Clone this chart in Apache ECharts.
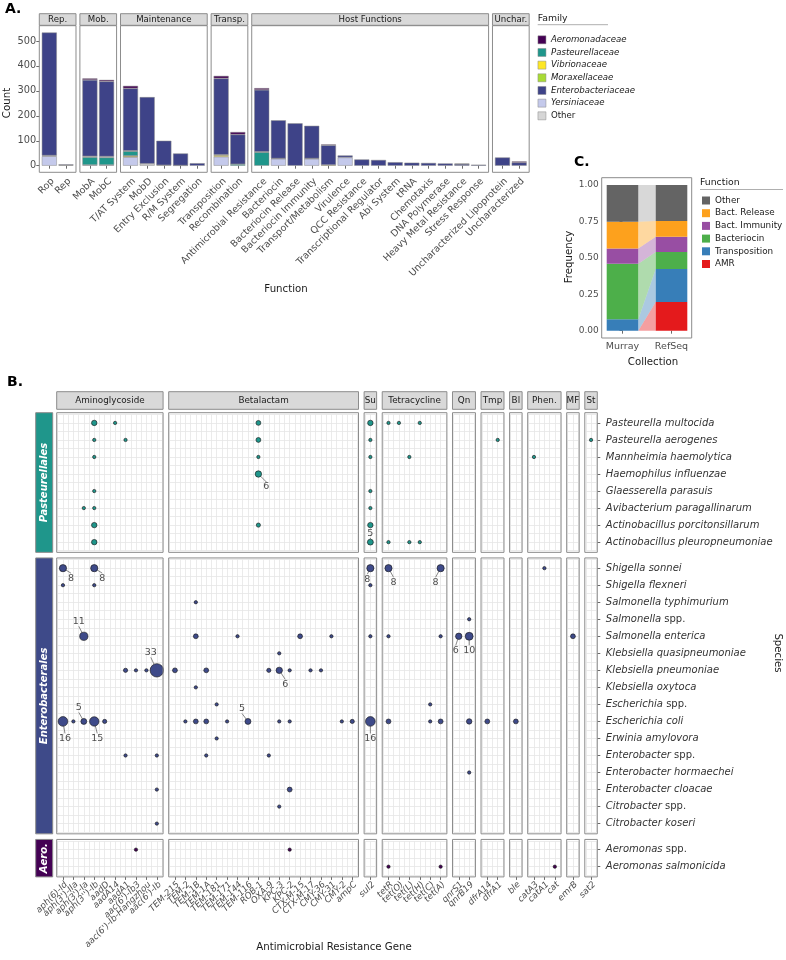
<!DOCTYPE html>
<html><head><meta charset="utf-8">
<script src="https://cdn.jsdelivr.net/npm/echarts@6/dist/echarts.min.js"></script>
<style>html,body{margin:0;padding:0;background:#fff}#c{width:786px;height:960px}</style>
</head><body><div id="c"></div>
<script>
// ================= DATA =================
// ---- Panel A ----
const functionFacets = ["Rep.","Mob.","Maintenance","Transp.","Host Functions","Unchar."];
const functionFacetSizes = [2,2,5,2,14,2];
const functions = ["Rop","Rep","MobA","MobC","T/AT System","MobD","Entry Exclusion","R/M System","Segregation","Transposition","Recombination","Antimicrobial Resistance","Bacteriocin","Bacteriocin Release","Bacteriocin Immunity","Transport/Metabolism","Virulence","QCC Resistance","Transcriptional Regulator","Abi System","tRNA","Chemotaxis","DNA Polymerase","Heavy Metal Resistance","Stress Response","Uncharacterized Lipoprotein","Uncharacterized"];
const familyLegendOrder = ["Aeromonadaceae","Pasteurellaceae","Vibrionaceae","Moraxellaceae","Enterobacteriaceae","Yersiniaceae","Other"];
const familyStackOrder = ["Yersiniaceae","Vibrionaceae","Moraxellaceae","Pasteurellaceae","Other","Enterobacteriaceae","Aeromonadaceae"];
const yersiniaceae       = [38,0,3,3,34,0,0,0,0,36,0,0,28,0,28,0,33,0,0,0,0,0,0,0,0,0,0];
const vibrionaceae       = [0,0,0,0,5,0,0,0,0,6,0,0,0,0,0,3,0,0,0,0,0,0,0,0,0,0,0];
const moraxellaceae      = [0,0,0,0,1,0,0,0,0,0,0,0,0,0,0,0,0,0,0,0,0,0,0,0,0,0,0];
const pasteurellaceae    = [0,2,31,30,18,0,0,0,0,0,6,54,0,0,0,0,0,0,0,0,0,0,0,0,0,0,0];
const otherFamily        = [3,0,4,4,2,8,2,1,0,2,0,2,1,0,1,0,0,0,0,0,0,0,0,0,0,0,0];
const enterobacteriaceae = [493,3,306,301,250,267,98,48,10,306,119,248,153,170,131,79,8,25,23,14,12,11,9,7,4,33,13];
const aeromonadaceae     = [0,0,6,6,10,0,0,0,0,10,10,7,0,0,0,3,0,0,0,0,0,0,0,1,0,0,4];
const yTicksA = [0,100,200,300,400,500];

// ---- Panel B ----
const geneFacets = ["Aminoglycoside","Betalactam","Su","Tetracycline","Qn","Tmp","Bl","Phen.","MF","St"];
const aminoglycoside = ["aph(6)-Id","aph(3')-IIa","aph(3')-Ia","aph(3'')-Ib","aadD","aadA14","aadA1","aac(6')-Ib3","aac(6')-Ib-Hangzhou","aac(6')-Ib"];
const betalactam = ["TEM-215","TEM-2","TEM-1B","TEM-1A","TEM-181","TEM-171","TEM-144","TEM-116","ROB-1","OXA-9","KPC-3","KPC-2","CTX-M-15","CTX-M-17","CMY-36","CMY-31","CMY-2","ampC"];
const sulfonamide = ["sul2"];
const tetracycline = ["tetR","tet(O)","tet(L)","tet(H)","tet(C)","tet(A)"];
const quinolone = ["qnrS1","qnrB19"];
const trimethoprim = ["dfrA14","dfrA1"];
const bleomycin = ["ble"];
const phenicol = ["catA3","catA1","cat"];
const macrolide = ["emrB"];
const streptothricin = ["sat2"];
const geneGroups = [aminoglycoside,betalactam,sulfonamide,tetracycline,quinolone,trimethoprim,bleomycin,phenicol,macrolide,streptothricin];

const orderNames = ["Pasteurellales","Enterobacterales","Aero."];
const pasteurellales = ["Pasteurella multocida","Pasteurella aerogenes","Mannheimia haemolytica","Haemophilus influenzae","Glaesserella parasuis","Avibacterium paragallinarum","Actinobacillus porcitonsillarum","Actinobacillus pleuropneumoniae"];
const enterobacterales = ["Shigella sonnei","Shigella flexneri","Salmonella typhimurium","Salmonella spp.","Salmonella enterica","Klebsiella quasipneumoniae","Klebsiella pneumoniae","Klebsiella oxytoca","Escherichia spp.","Escherichia coli","Erwinia amylovora","Enterobacter spp.","Enterobacter hormaechei","Enterobacter cloacae","Citrobacter spp.","Citrobacter koseri"];
const aeromonadales = ["Aeromonas spp.","Aeromonas salmonicida"];
const speciesGroups = [pasteurellales,enterobacterales,aeromonadales];

const pointsPasteurellales = [
 ["Pasteurella multocida","aph(3'')-Ib",4],["Pasteurella multocida","aadA14",1],["Pasteurella multocida","ROB-1",3],["Pasteurella multocida","sul2",4],["Pasteurella multocida","tetR",1],["Pasteurella multocida","tet(O)",1],["Pasteurella multocida","tet(H)",1],
 ["Pasteurella aerogenes","aph(3'')-Ib",1],["Pasteurella aerogenes","aadA1",1],["Pasteurella aerogenes","ROB-1",3],["Pasteurella aerogenes","sul2",1],["Pasteurella aerogenes","dfrA1",1],["Pasteurella aerogenes","sat2",1],
 ["Mannheimia haemolytica","aph(3'')-Ib",1],["Mannheimia haemolytica","ROB-1",1],["Mannheimia haemolytica","sul2",1],["Mannheimia haemolytica","tet(L)",1],["Mannheimia haemolytica","catA3",1],
 ["Haemophilus influenzae","ROB-1",6],
 ["Glaesserella parasuis","aph(3'')-Ib",1],["Glaesserella parasuis","sul2",1],
 ["Avibacterium paragallinarum","aph(3')-Ia",1],["Avibacterium paragallinarum","aph(3'')-Ib",1],["Avibacterium paragallinarum","sul2",1],
 ["Actinobacillus porcitonsillarum","aph(3'')-Ib",4],["Actinobacillus porcitonsillarum","ROB-1",2],["Actinobacillus porcitonsillarum","sul2",4],
 ["Actinobacillus pleuropneumoniae","aph(3'')-Ib",4],["Actinobacillus pleuropneumoniae","sul2",5],["Actinobacillus pleuropneumoniae","tetR",1],["Actinobacillus pleuropneumoniae","tet(L)",1],["Actinobacillus pleuropneumoniae","tet(H)",1]
];
const pointsEnterobacterales = [
 ["Shigella sonnei","aph(6)-Id",8],["Shigella sonnei","aph(3'')-Ib",8],["Shigella sonnei","sul2",8],["Shigella sonnei","tetR",8],["Shigella sonnei","tet(A)",8],["Shigella sonnei","catA1",1],
 ["Shigella flexneri","aph(6)-Id",1],["Shigella flexneri","aph(3'')-Ib",1],["Shigella flexneri","sul2",1],
 ["Salmonella typhimurium","TEM-1B",1],
 ["Salmonella spp.","qnrB19",1],
 ["Salmonella enterica","aph(3')-Ia",11],["Salmonella enterica","TEM-1B",3],["Salmonella enterica","TEM-144",1],["Salmonella enterica","CTX-M-15",3],["Salmonella enterica","CMY-31",1],["Salmonella enterica","sul2",1],["Salmonella enterica","tetR",1],["Salmonella enterica","tet(A)",1],["Salmonella enterica","qnrS1",6],["Salmonella enterica","qnrB19",10],["Salmonella enterica","emrB",3],
 ["Klebsiella quasipneumoniae","KPC-3",1],
 ["Klebsiella pneumoniae","aadA1",2],["Klebsiella pneumoniae","aac(6')-Ib3",1],["Klebsiella pneumoniae","aac(6')-Ib-Hangzhou",1],["Klebsiella pneumoniae","aac(6')-Ib",33],["Klebsiella pneumoniae","TEM-215",3],["Klebsiella pneumoniae","TEM-1A",3],["Klebsiella pneumoniae","OXA-9",2],["Klebsiella pneumoniae","KPC-3",6],["Klebsiella pneumoniae","KPC-2",1],["Klebsiella pneumoniae","CTX-M-17",1],["Klebsiella pneumoniae","CMY-36",1],
 ["Klebsiella oxytoca","TEM-1B",1],
 ["Escherichia spp.","TEM-181",1],["Escherichia spp.","tet(C)",1],
 ["Escherichia coli","aph(6)-Id",16],["Escherichia coli","aph(3')-IIa",1],["Escherichia coli","aph(3')-Ia",5],["Escherichia coli","aph(3'')-Ib",15],["Escherichia coli","aadD",2],
 ["Escherichia coli","TEM-2",1],["Escherichia coli","TEM-1B",3],["Escherichia coli","TEM-1A",3],["Escherichia coli","TEM-171",1],["Escherichia coli","TEM-116",5],["Escherichia coli","KPC-3",1],["Escherichia coli","KPC-2",1],["Escherichia coli","CMY-2",1],["Escherichia coli","ampC",2],
 ["Escherichia coli","sul2",16],["Escherichia coli","tetR",3],["Escherichia coli","tet(C)",1],["Escherichia coli","tet(A)",3],["Escherichia coli","qnrB19",4],["Escherichia coli","dfrA14",3],["Escherichia coli","ble",3],
 ["Erwinia amylovora","TEM-181",1],
 ["Enterobacter spp.","aadA1",1],["Enterobacter spp.","aac(6')-Ib",1],["Enterobacter spp.","TEM-1A",1],["Enterobacter spp.","OXA-9",1],
 ["Enterobacter hormaechei","qnrB19",1],
 ["Enterobacter cloacae","aac(6')-Ib",1],["Enterobacter cloacae","KPC-2",3],
 ["Citrobacter spp.","KPC-3",1],
 ["Citrobacter koseri","aac(6')-Ib",1]
];
const pointsAeromonadales = [
 ["Aeromonas spp.","aac(6')-Ib3",1],["Aeromonas spp.","KPC-2",1],
 ["Aeromonas salmonicida","tetR",1],["Aeromonas salmonicida","tet(A)",1],["Aeromonas salmonicida","cat",1]
];
const pointGroups = [pointsPasteurellales,pointsEnterobacterales,pointsAeromonadales];

// ---- Panel C ----
const collections = ["Murray","RefSeq"];
const functionCategories = ["AMR","Transposition","Bacteriocin","Bact. Immunity","Bact. Release","Other"]; // bottom -> top
const murrayFreq = [0, 0.078, 0.382, 0.105, 0.183, 0.252];
const refseqFreq = [0.197, 0.226, 0.117, 0.105, 0.108, 0.247];
const yTicksC = [0, 0.25, 0.5, 0.75, 1];

// ================= STYLE =================
const FONT = 'DejaVu Sans';
const familyColors = {Aeromonadaceae:'#440154',Pasteurellaceae:'#1F968B',Vibrionaceae:'#FDE725',Moraxellaceae:'#A8DB34',Enterobacteriaceae:'#3E4388',Yersiniaceae:'#C4C9EB',Other:'#D6D6D6'};
const familyData = {Yersiniaceae:yersiniaceae,Vibrionaceae:vibrionaceae,Moraxellaceae:moraxellaceae,Pasteurellaceae:pasteurellaceae,Other:otherFamily,Enterobacteriaceae:enterobacteriaceae,Aeromonadaceae:aeromonadaceae};
const familyKey = n => n==='Other' ? 'Other ' : n;   // keeps the two "Other" legends apart
const groupColors = ['#1F968B','#3E4A89','#440154'];
const functionColors = {"AMR":'#E41A1C',"Transposition":'#377EB8',"Bacteriocin":'#4DAF4A',"Bact. Immunity":'#984EA3',"Bact. Release":'#FDA11D',"Other":'#646464'};
const flowOpacity = {"AMR":0.42,"Transposition":0.42,"Bacteriocin":0.45,"Bact. Immunity":0.42,"Bact. Release":0.42,"Other":0.25};
const labelNudges = {
 "Haemophilus influenzae|ROB-1":[8,13],
 "Actinobacillus pleuropneumoniae|sul2":[0,-9],
 "Shigella sonnei|aph(6)-Id":[8,10],
 "Shigella sonnei|aph(3'')-Ib":[8,10],
 "Shigella sonnei|sul2":[-3,11],
 "Shigella sonnei|tetR":[5,14],
 "Shigella sonnei|tet(A)":[-5,14],
 "Salmonella enterica|aph(3')-Ia":[-5,-15],
 "Salmonella enterica|qnrS1":[-3,14],
 "Salmonella enterica|qnrB19":[0,14],
 "Klebsiella pneumoniae|aac(6')-Ib":[-6,-18],
 "Klebsiella pneumoniae|KPC-3":[6,14],
 "Escherichia coli|aph(6)-Id":[2,17],
 "Escherichia coli|aph(3')-Ia":[-5,-14],
 "Escherichia coli|aph(3'')-Ib":[3,17],
 "Escherichia coli|TEM-116":[-6,-13],
 "Escherichia coli|sul2":[0,17]
};

// ================= BUILD =================
const grids=[], xAxes=[], yAxes=[], series=[], graphics=[];
const txt = (t,x,y,o={}) => ({type:'text', x, y, rotation:o.rot||0, z:o.z||50, silent:true,
  style:{text:t, textAlign:o.align||'center', textVerticalAlign:o.va||'middle', align:o.align||'center', verticalAlign:o.va||'middle',
    fontSize:o.size||10, fontFamily:FONT, fontWeight:o.weight||'normal', fontStyle:o.style||'normal', fill:o.color||'#1a1a1a'}});
const box = (x,y,w,h,fill,stroke,z) => ({type:'rect', z:z||20, silent:true, shape:{x,y,width:w,height:h}, style:{fill:fill||'none', stroke:stroke||'#8c8c8c', lineWidth:1}});

// ---- Panel A ----
const A = {x0:39.3, u:16.68, gap:3.9, top:25.7, bottom:172.3, y0px:165.7, y500px:41, stripTop:13.7, stripH:11.6};
{
  let cursor=0, ax=A.x0;
  functionFacetSizes.forEach((n,f)=>{
    const w=(n+0.2)*A.u, gi=grids.length;
    grids.push({left:ax+0.1*A.u, top:A.y500px, width:n*A.u, height:A.y0px-A.y500px, outerBoundsMode:'none', containLabel:false});
    xAxes.push({type:'category', gridIndex:gi, data:functions.slice(cursor,cursor+n), boundaryGap:true, offset:A.bottom-A.y0px,
      axisLine:{show:false}, axisTick:{show:true, alignWithLabel:true, interval:0, length:3, lineStyle:{color:'#444', width:0.8}},
      axisLabel:{interval:0, rotate:45, align:'right', verticalAlign:'top', fontSize:9.5, color:'#4d4d4d', margin:4, fontFamily:FONT, hideOverlap:false, showMinLabel:true, showMaxLabel:true},
      splitLine:{show:false}});
    yAxes.push({type:'value', gridIndex:gi, min:yTicksA[0], max:yTicksA[yTicksA.length-1], interval:100, offset:0.1*A.u,
      axisLine:{show:false}, axisTick:{show:f===0, length:3, lineStyle:{color:'#444', width:0.8}},
      axisLabel:{show:f===0, fontSize:9.8, color:'#4d4d4d', margin:3, fontFamily:FONT, showMinLabel:true, showMaxLabel:true}, splitLine:{show:false}});
    const xi=xAxes.length-1, yi=yAxes.length-1;
    familyStackOrder.forEach(fam=>{
      series.push({type:'bar', name:familyKey(fam), xAxisIndex:xi, yAxisIndex:yi, stack:'A'+f, clip:false, barWidth:'90%',
        data:familyData[fam].slice(cursor,cursor+n).map(v=>v>0?v:null),
        itemStyle:{color:familyColors[fam], borderColor:'#8a8a8a', borderWidth:0.5}, emphasis:{disabled:true}, silent:true, animation:false});
    });
    graphics.push(box(ax,A.top,w,A.bottom-A.top,'none','#8c8c8c',30));
    graphics.push(box(ax,A.stripTop,w,A.stripH,'#d9d9d9','#8c8c8c',20));
    graphics.push(txt(functionFacets[f], ax+w/2, A.stripTop+A.stripH/2+0.3, {size:8.6}));
    cursor+=n; ax+=w+A.gap;
  });
}

// ---- Panel B ----
const B = {x0:56.7, u:10.43, gx:5.6, y0:412.7, v:17.03, gy:5.6, stripTop:391.7, stripH:17.6, lx:35.7, lw:17};
const colPos=[]; { let x=B.x0; geneGroups.forEach(g=>{const w=(g.length+0.2)*B.u; colPos.push({x,w}); x+=w+B.gx;}); }
const rowPos=[]; { let y=B.y0; speciesGroups.forEach(s=>{const h=(s.length+0.2)*B.v; rowPos.push({y,h}); y+=h+B.gy;}); }
const geneLoc={}; geneGroups.forEach((g,f)=>g.forEach((name,i)=>geneLoc[name]=[f,i]));
const speciesFmt = name => { if (name.endsWith(' spp.')) return '{i|'+name.slice(0,-5)+'} {n|spp.}'; return '{i|'+name+'}'; };
const gridLine = {show:true, lineStyle:{color:'#e6e6e6', width:0.8}};

speciesGroups.forEach((sp,r)=>{
  geneGroups.forEach((genes,f)=>{
    const cp=colPos[f], rp=rowPos[r], gi=grids.length;
    grids.push({left:cp.x+0.1*B.u, top:rp.y+0.1*B.v, width:genes.length*B.u, height:sp.length*B.v, outerBoundsMode:'none', containLabel:false});
    xAxes.push({type:'value', gridIndex:gi, min:-0.5, max:genes.length-0.5, interval:0.5, axisLine:{show:false}, axisTick:{show:false}, axisLabel:{show:false}, splitLine:gridLine});
    const xi=xAxes.length-1;
    yAxes.push({type:'value', gridIndex:gi, inverse:true, min:-0.5, max:sp.length-0.5, interval:0.5, axisLine:{show:false}, axisTick:{show:false}, axisLabel:{show:false}, splitLine:gridLine});
    const yi=yAxes.length-1;
    if (r===speciesGroups.length-1) {
      xAxes.push({type:'category', gridIndex:gi, position:'bottom', data:genes, boundaryGap:true, offset:0.1*B.v,
        axisLine:{show:false}, splitLine:{show:false},
        axisTick:{show:true, alignWithLabel:true, interval:0, length:3, lineStyle:{color:'#444', width:0.8}},
        axisLabel:{show:true, interval:0, rotate:45, align:'right', verticalAlign:'top', margin:3, fontSize:8.8, fontStyle:'italic', color:'#4d4d4d', fontFamily:FONT,
          hideOverlap:false, showMinLabel:true, showMaxLabel:true}});
    }
    if (f===geneGroups.length-1) {
      yAxes.push({type:'category', gridIndex:gi, position:'right', inverse:true, data:sp, boundaryGap:true, offset:0.1*B.u,
        axisLine:{show:false}, splitLine:{show:false},
        axisTick:{show:true, alignWithLabel:true, interval:0, length:3, lineStyle:{color:'#444', width:0.8}},
        axisLabel:{show:true, interval:0, margin:8.5, fontSize:10, color:'#333', fontFamily:FONT, hideOverlap:false, showMinLabel:true, showMaxLabel:true,
          formatter:v=>speciesFmt(v),
          rich:{i:{fontStyle:'italic', fontSize:10, color:'#333', fontFamily:FONT}, n:{fontSize:10, color:'#333', fontFamily:FONT}}}});
    }
    const items=[], nudges=[];
    pointGroups[r].forEach(([s,g,c])=>{
      const loc=geneLoc[g]; if (loc[0]!==f) return;
      const it={value:[loc[1], sp.indexOf(s), c]};
      if (c>=5) { it.label={show:true}; it.labelLine={show:true}; nudges.push(labelNudges[s+'|'+g]||[0,-10]); }
      else nudges.push(null);
      items.push(it);
    });
    series.push({type:'scatter', xAxisIndex:xi, yAxisIndex:yi, data:items,
      symbolSize:v=>1.2+2.12*Math.sqrt(v[2]),
      itemStyle:{color:groupColors[r], borderColor:'rgba(25,25,25,0.9)', borderWidth:0.7, opacity:1},
      label:{show:false, position:'inside', formatter:p=>String(p.value[2]), fontSize:9.5, color:'#4d4d4d', fontFamily:FONT, textBorderWidth:0},
      labelLine:{show:false, lineStyle:{color:'#555', width:0.7}},
      labelLayout:p=>{const nd=nudges[p.dataIndex]; return nd?{dx:nd[0], dy:nd[1]}:{};},
      emphasis:{disabled:true}, silent:true, animation:false, z:5});
    graphics.push(box(cp.x,rp.y,cp.w,rp.h,'none','#8c8c8c',30));
  });
});
geneFacets.forEach((name,f)=>{
  const cp=colPos[f];
  graphics.push(box(cp.x,B.stripTop,cp.w,B.stripH,'#d9d9d9','#8c8c8c',20));
  graphics.push(txt(name, cp.x+cp.w/2, B.stripTop+B.stripH/2+0.3, {size:8.8}));
});
orderNames.forEach((name,r)=>{
  const rp=rowPos[r];
  graphics.push(box(B.lx,rp.y,B.lw,rp.h,groupColors[r],'#8c8c8c',20));
  graphics.push(txt(name, B.lx+B.lw/2+0.5, rp.y+rp.h/2, {size:10, weight:'bold', style:'italic', color:'#ffffff', rot:Math.PI/2}));
});

// ---- Panel C ----
const C = {left:622.5, top:185, width:49, height:145.7, px0:601.7, pw:90, pt:177.7, ph:160.3, halfW:0.3224};
{
  const gi=grids.length;
  grids.push({left:C.left, top:C.top, width:C.width, height:C.height, outerBoundsMode:'none', containLabel:false});
  xAxes.push({type:'value', gridIndex:gi, min:0, max:1, interval:1, offset:C.pt+C.ph-(C.top+C.height),
    axisLine:{show:false}, splitLine:{show:false}, axisTick:{show:true, length:3, lineStyle:{color:'#444', width:0.8}},
    axisLabel:{fontSize:9.5, color:'#4d4d4d', margin:4, fontFamily:FONT, showMinLabel:true, showMaxLabel:true, formatter:v=>collections[Math.round(v)]}});
  yAxes.push({type:'value', gridIndex:gi, min:yTicksC[0], max:yTicksC[yTicksC.length-1], interval:0.25, offset:C.left-C.px0,
    axisLine:{show:false}, splitLine:{show:false}, axisTick:{show:true, length:3, lineStyle:{color:'#444', width:0.8}},
    axisLabel:{fontSize:9, color:'#4d4d4d', margin:3, fontFamily:FONT, showMinLabel:true, showMaxLabel:true, formatter:v=>v.toFixed(2)}});
  const xi=xAxes.length-1, yi=yAxes.length-1;
  let cm=0, cr=0;
  functionCategories.forEach((fn,k)=>{
    const m0=cm, m1=cm+murrayFreq[k], r0=cr, r1=cr+refseqFreq[k];
    cm=m1; cr=r1;
    const col=functionColors[fn], op=flowOpacity[fn];
    series.push({type:'custom', name:fn, xAxisIndex:xi, yAxisIndex:yi, itemStyle:{color:col}, silent:true, animation:false,
      encode:{x:0, y:[1,2]},
      data:[[0,m0,m1,0,0],[1,r0,r1,0,0],[0.5,m0,m1,r0,r1]],
      renderItem:(params,api)=>{
        const xv=api.value(0);
        if (xv===0.5) {
          const a=api.coord([C.halfW, api.value(1)]), b=api.coord([C.halfW, api.value(2)]);
          const c=api.coord([1-C.halfW, api.value(4)]), d=api.coord([1-C.halfW, api.value(3)]);
          return {type:'polygon', shape:{points:[a,b,c,d]}, style:{fill:col, opacity:op}, z2:1};
        }
        const p0=api.coord([xv-C.halfW, api.value(2)]), p1=api.coord([xv+C.halfW, api.value(1)]);
        return {type:'rect', shape:{x:p0[0], y:p0[1], width:p1[0]-p0[0], height:p1[1]-p0[1]}, style:{fill:col}, z2:2};
      }});
  });
  graphics.push(box(C.px0,C.pt,C.pw,C.ph,'none','#8c8c8c',30));
}

// ---- Titles & legends' headers ----
graphics.push(txt('A.', 5, 9, {align:'left', size:14, weight:'bold', color:'#000'}));
graphics.push(txt('B.', 7, 382, {align:'left', size:14, weight:'bold', color:'#000'}));
graphics.push(txt('C.', 574, 162, {align:'left', size:14, weight:'bold', color:'#000'}));
graphics.push(txt('Count', 7, 103, {size:10.2, rot:Math.PI/2}));
graphics.push(txt('Function', 286, 289, {size:10.2}));
graphics.push(txt('Frequency', 569, 257, {size:10.2, rot:Math.PI/2}));
graphics.push(txt('Collection', 653, 362, {size:10.2}));
graphics.push(txt('Species', 778, 653, {size:10.2, rot:-Math.PI/2}));
graphics.push(txt('Antimicrobial Resistance Gene', 334, 947, {size:10.2}));
graphics.push(txt('Family', 537.7, 18.3, {align:'left', size:9.3}));
graphics.push({type:'line', silent:true, shape:{x1:537.7, y1:24.7, x2:608, y2:24.7}, style:{stroke:'#9a9a9a', lineWidth:0.8}});
graphics.push(txt('Function', 700, 183, {align:'left', size:9.3}));
graphics.push({type:'line', silent:true, shape:{x1:700, y1:189.5, x2:783, y2:189.5}, style:{stroke:'#9a9a9a', lineWidth:0.8}});

const legendText = {fontSize:8.6, color:'#1a1a1a', fontFamily:FONT, lineHeight:8};
const option = {
  backgroundColor:'#ffffff',
  animation:false,
  grid:grids, xAxis:xAxes, yAxis:yAxes, series:series,
  legend:[
    {left:537.7, top:35.3, orient:'vertical', itemWidth:8, itemHeight:8, itemGap:3.67, padding:0, icon:'rect', selectedMode:false,
     data:familyLegendOrder.map(familyKey), formatter:n=>n.trim()==='Other'?'Other':'{i|'+n+'}',
     textStyle:Object.assign({}, legendText, {rich:{i:{fontStyle:'italic', fontSize:8.6, color:'#1a1a1a', fontFamily:FONT, lineHeight:8}}}),
     itemStyle:{borderColor:'#8a8a8a', borderWidth:0.5}},
    {left:702, top:196, orient:'vertical', itemWidth:8, itemHeight:8, itemGap:3.7, padding:0, icon:'rect', selectedMode:false,
     data:functionCategories.slice().reverse(), textStyle:Object.assign({}, legendText, {fontSize:8.8}),
     itemStyle:{borderWidth:0}}
  ],
  graphic:{elements:graphics}
};
const chart = echarts.init(document.getElementById('c'), null, {renderer:'canvas', width:786, height:960});
chart.setOption(option);
</script>
</body></html>
